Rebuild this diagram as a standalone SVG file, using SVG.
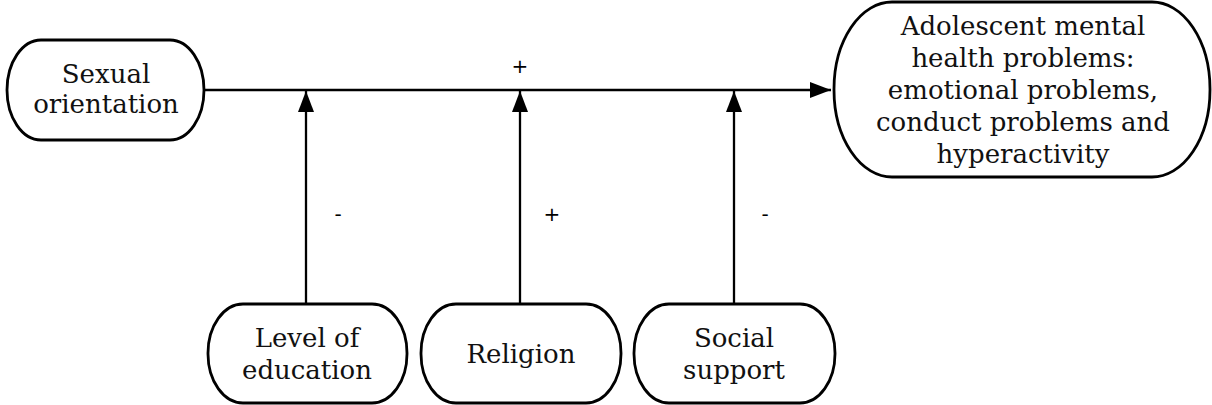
<svg xmlns="http://www.w3.org/2000/svg" width="1212" height="405" viewBox="0 0 1212 405">
<style>
.box{fill:#fff;stroke:#000;stroke-width:2.8}
.t{font-family:"DejaVu Serif","Liberation Serif",serif;font-size:26px;fill:#111;text-anchor:middle}
.lbl{font-family:"DejaVu Sans","Liberation Sans",sans-serif;font-size:20px;fill:#000;text-anchor:middle}
.ln{stroke:#000;stroke-width:2.3;fill:none}
</style>
<defs>
<marker id="ah" viewBox="0 0 21 16" refX="21" refY="8" markerWidth="21" markerHeight="16" markerUnits="userSpaceOnUse" orient="auto">
<path d="M0,0 L21,8 L0,16 Z" fill="#000"/>
</marker>
</defs>
<g id="connectors">
<line class="ln" x1="205" y1="90" x2="831" y2="90" marker-end="url(#ah)"/>
<line class="ln" x1="306" y1="304" x2="306" y2="91" marker-end="url(#ah)"/>
<line class="ln" x1="520" y1="304" x2="520" y2="91" marker-end="url(#ah)"/>
<line class="ln" x1="734" y1="304" x2="734" y2="91" marker-end="url(#ah)"/>
<text class="lbl" x="520" y="73">+</text>
<text class="lbl" x="338" y="221">-</text>
<text class="lbl" x="552" y="221">+</text>
<text class="lbl" x="765" y="221">-</text>
</g>
<g id="sexual-orientation">
<rect class="box" x="7" y="40" width="197" height="100" rx="34" ry="50"/>
<text class="t" x="106" y="83">Sexual</text>
<text class="t" x="106" y="113">orientation</text>
</g>
<g id="outcome">
<rect class="box" x="834" y="2" width="376" height="175" rx="58" ry="87"/>
<text class="t" x="1023" y="35">Adolescent mental</text>
<text class="t" x="1023" y="67">health problems:</text>
<text class="t" x="1023" y="99">emotional problems,</text>
<text class="t" x="1023" y="131">conduct problems and</text>
<text class="t" x="1023" y="163">hyperactivity</text>
</g>
<g id="education">
<rect class="box" x="208" y="304" width="199" height="99" rx="35" ry="49"/>
<text class="t" x="307" y="347">Level of</text>
<text class="t" x="307" y="379">education</text>
</g>
<g id="religion">
<rect class="box" x="421" y="304" width="200" height="99" rx="35" ry="49"/>
<text class="t" x="521" y="363">Religion</text>
</g>
<g id="social-support">
<rect class="box" x="634" y="304" width="201" height="99" rx="35" ry="49"/>
<text class="t" x="734" y="347">Social</text>
<text class="t" x="734" y="379">support</text>
</g>
</svg>
